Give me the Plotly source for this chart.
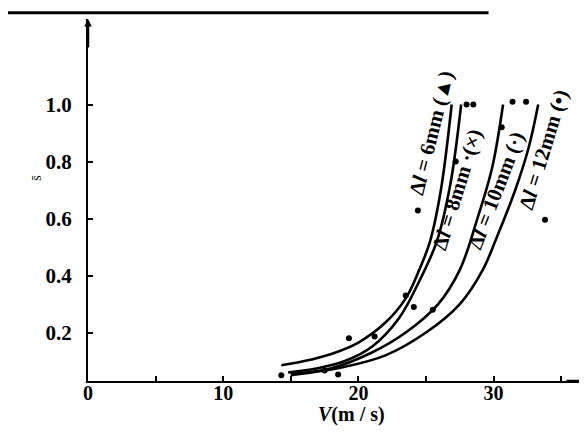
import plotly.graph_objects as go

# ---- data ----
curve_6_x = [14.3, 16.0, 18.0, 20.0, 22.0, 23.5, 24.5, 25.3, 26.1, 26.9]
curve_6_y = [0.085, 0.10, 0.125, 0.165, 0.235, 0.32, 0.42, 0.52, 0.70, 1.0]
curve_8_x = [14.8, 17.0, 19.0, 21.0, 23.0, 24.5, 25.8, 26.8, 27.6]
curve_8_y = [0.06, 0.075, 0.10, 0.15, 0.25, 0.38, 0.52, 0.72, 1.0]
curve_10_x = [15.0, 18.0, 21.0, 23.5, 25.9, 27.5, 28.8, 29.9, 30.7]
curve_10_y = [0.055, 0.075, 0.13, 0.20, 0.30, 0.42, 0.60, 0.78, 1.0]
curve_12_x = [15.0, 19.0, 22.0, 25.0, 27.5, 29.2, 30.2, 31.6, 32.6, 33.3]
curve_12_y = [0.05, 0.08, 0.12, 0.20, 0.30, 0.42, 0.53, 0.70, 0.85, 1.0]

pts_6_x = [24.4, 19.3, 14.3]
pts_6_y = [0.628, 0.18, 0.05]
pts_8_x = [28.0, 28.5, 27.2, 23.5, 17.5]
pts_8_y = [1.0, 1.0, 0.80, 0.33, 0.067]
pts_10_x = [30.6, 31.4, 21.2, 24.1, 18.5]
pts_10_y = [0.92, 1.01, 0.186, 0.29, 0.053]
pts_12_x = [32.4, 33.8, 25.5]
pts_12_y = [1.01, 0.596, 0.28]

labels = ["Δ<i>l</i> = 6mm (▲)", "Δ<i>l</i> = 8mm ·(×)", "Δ<i>l</i> = 10mm (·)", "Δ<i>l</i> = 12mm (•)"]
label_x = [25.4, 27.3, 30.2, 33.7]
label_y = [0.90, 0.70, 0.70, 0.84]
label_angle = [-76, -73, -69, -73]

x_tickvals = [0, 5, 10, 15, 20, 25, 30, 35]
x_ticktext = ["0", "", "10", "", "20", "", "30", ""]
y_tickvals = [0.2, 0.4, 0.6, 0.8, 1.0]
y_ticktext = ["0.2", "0.4", "0.6", "0.8", "1.0"]

SERIF = "Liberation Serif"

fig = go.Figure()
for cx, cy in [(curve_6_x, curve_6_y), (curve_8_x, curve_8_y),
               (curve_10_x, curve_10_y), (curve_12_x, curve_12_y)]:
    fig.add_trace(go.Scatter(x=cx, y=cy, mode="lines",
                             line=dict(color="black", width=2.6, shape="spline", smoothing=1.0),
                             showlegend=False, hoverinfo="skip"))
for px, py in [(pts_6_x, pts_6_y), (pts_8_x, pts_8_y),
               (pts_10_x, pts_10_y), (pts_12_x, pts_12_y)]:
    fig.add_trace(go.Scatter(x=px, y=py, mode="markers",
                             marker=dict(color="black", size=6, symbol="circle"),
                             showlegend=False, hoverinfo="skip"))

annotations = []
for t, x, y, a in zip(labels, label_x, label_y, label_angle):
    annotations.append(dict(x=x, y=y, xref="x", yref="y", text=t, showarrow=False,
                            textangle=a, font=dict(family=SERIF, size=21, color="black", weight="bold")))
# axis title and y label
annotations.append(dict(x=0.52, y=-0.055, xref="paper", yref="paper", yanchor="top",
                        text="<i>V</i>(m / s)", showarrow=False,
                        font=dict(family=SERIF, size=20, color="black", weight="bold")))
annotations.append(dict(x=-0.12, y=0.56, xref="paper", yref="paper",
                        text="s̄", showarrow=False, textangle=-90,
                        font=dict(family=SERIF, size=14, color="black")))
# axis arrows
annotations.append(dict(x=0, y=1, xref="paper", yref="paper", ax=0, ay=30, text="",
                        showarrow=True, arrowhead=2, arrowsize=0.6, arrowwidth=2.5, arrowcolor="black"))
annotations.append(dict(x=1, y=0, xref="paper", yref="paper", ax=-30, ay=0, text="",
                        showarrow=True, arrowhead=2, arrowsize=0.6, arrowwidth=2.5, arrowcolor="black"))

fig.update_layout(
    width=587, height=433,
    margin=dict(l=80, r=0, t=11, b=60),
    paper_bgcolor="white", plot_bgcolor="white",
    annotations=annotations,
    shapes=[dict(type="line", xref="paper", yref="paper", x0=-0.158, x1=0.79, y0=1.017, y1=1.017,
                 line=dict(color="black", width=3))],
    xaxis=dict(range=[0, 37.5], showgrid=False, zeroline=False, showline=True,
               linecolor="black", linewidth=2, ticks="inside", ticklen=5, tickwidth=1.5,
               tickcolor="black", tickvals=x_tickvals, ticktext=x_ticktext, ticklabelstandoff=-7,
               tickfont=dict(family=SERIF, size=20, color="black", weight="bold")),
    yaxis=dict(range=[0.03, 1.30], showgrid=False, zeroline=False, showline=True,
               linecolor="black", linewidth=2, ticks="inside", ticklen=5, tickwidth=1.5,
               tickcolor="black", tickvals=y_tickvals, ticktext=y_ticktext, ticklabelstandoff=10,
               tickfont=dict(family=SERIF, size=21, color="black", weight="bold")),
)

fig.write_html("out.html")
